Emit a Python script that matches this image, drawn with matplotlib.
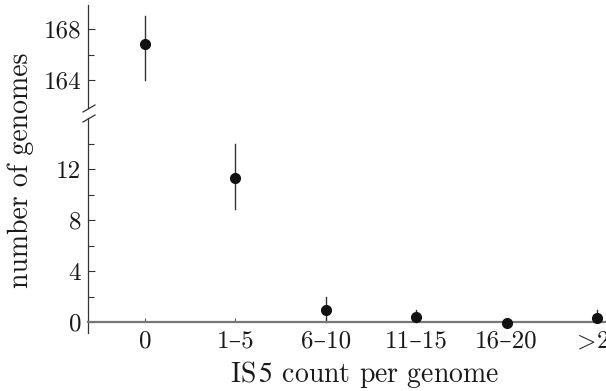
import matplotlib
matplotlib.use("Agg")
import matplotlib.pyplot as plt
from matplotlib.lines import Line2D

plt.rcParams['font.family'] = ['cmr10', 'DejaVu Serif']
plt.rcParams['mathtext.fontset'] = 'cm'
plt.rcParams['axes.unicode_minus'] = False

categories = ['0', '1–5', '6–10', '11–15', '16–20', r'$>\!$20']
values = [166.85, 11.3, 0.95, 0.4, -0.05, 0.35]
err_low = [164.0, 8.9, 0.0, 0.0, 0.0, 0.0]
err_high = [169.0, 14.0, 2.0, 0.95, 0.0, 0.95]

W, H = 606, 391
fig = plt.figure(figsize=(W/100, H/100), dpi=100)

left = 88/W
ax_top = fig.add_axes([left, 1-108/H, 1-left, (108-5)/H])
ax_bot = fig.add_axes([left, 1-333/H, 1-left, (333-118)/H])

xs = list(range(len(categories)))
txtc = '#1a1a1a'
ecol = '#333333'
for ax in (ax_top, ax_bot):
    for x, v, lo, hi in zip(xs, values, err_low, err_high):
        if hi > lo:
            ax.plot([x, x], [lo, hi], color=ecol, lw=1.0, zorder=2)
    ax.plot(xs, values, 'o', color='#111111', ms=7, zorder=3, clip_on=False)
    ax.set_xlim(-0.63, 5.10)
    for s in ('top', 'right'):
        ax.spines[s].set_visible(False)
    ax.spines['left'].set_color('#333333')
    ax.spines['left'].set_linewidth(0.9)
    ax.tick_params(axis='y', direction='in', length=5, width=0.8, color='#333333',
                   labelsize=18, labelcolor=txtc, pad=5)
    ax.tick_params(axis='y', which='minor', direction='in', length=4, width=0.8, color='#333333')

# top axis (broken)
ax_top.set_ylim(161.8, 169.9)
ax_top.set_yticks([164, 168])
ax_top.set_yticks([166], minor=True)
ax_top.spines['bottom'].set_visible(False)
ax_top.set_xticks([])

# bottom axis
ax_bot.set_ylim(-0.86, 16.0)
ax_bot.set_yticks([0, 4, 8, 12])
ax_bot.set_yticks([2, 6, 10, 14], minor=True)
ax_bot.spines['bottom'].set_position(('data', 0))
ax_bot.spines['bottom'].set_color('#777777')
ax_bot.spines['bottom'].set_linewidth(1.6)
ax_bot.set_xticks(xs)
ax_bot.set_xticklabels(categories)
ax_bot.tick_params(axis='x', direction='in', length=3, width=0.8, color='#555555',
                   labelsize=18, labelcolor=txtc, pad=6)

# break marks
for yb in (108, 118):
    fig.add_artist(Line2D([83/W, 95/W], [1-(yb+4)/H, 1-(yb-3)/H],
                          color='#333333', lw=0.9))

fig.text(21/W, 1-170/H, 'number of genomes', rotation=90, ha='center', va='center',
         fontsize=20, color=txtc)
fig.text(365/W, 1-374/H, r'IS$\,\mathit{5}$ count per genome', ha='center', va='center',
         fontsize=20, color=txtc, math_fontfamily='stix')

fig.savefig('out.png', dpi=100)
